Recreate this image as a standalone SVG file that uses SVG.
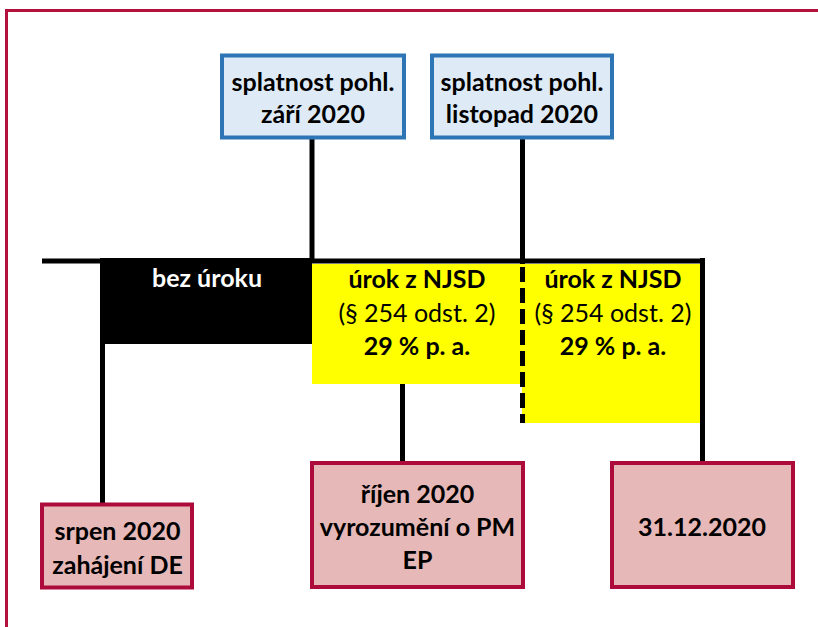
<svg xmlns="http://www.w3.org/2000/svg" width="818" height="627" viewBox="0 0 818 627">
  <style>
    .t { font-family: Lato, "Open Sans", "Liberation Sans", sans-serif; font-size: 25px; text-anchor: middle; fill: #000; }
    .b { font-weight: bold; }
    .r { font-weight: normal; }
    .w { fill: #fff; }
    .due { fill: #DEEBF7; stroke: #2E75B6; stroke-width: 4; }
    .event { fill: #E6B8B7; stroke: #AC0B3B; stroke-width: 4; }
    .ln { stroke: #000; stroke-width: 5; fill: none; }
  </style>

  <!-- outer frame (top and left edges) -->
  <path d="M6.5,627 V10.5 H818" fill="none" stroke="#B3123F" stroke-width="3"/>

  <!-- interest periods -->
  <g id="period-no-interest">
    <rect x="100" y="258" width="212" height="86" fill="#000"/>
    <text class="t b w" x="207" y="287">bez úroku</text>
  </g>
  <g id="period-interest-1">
    <rect x="312" y="264" width="210" height="120" fill="#FFFF00"/>
    <text class="t b" x="417" y="288">úrok z NJSD</text>
    <text class="t r" x="417" y="321.5">(§ 254 odst. 2)</text>
    <text class="t b" x="417" y="355">29 % p. a.</text>
  </g>
  <g id="period-interest-2">
    <rect x="522" y="264" width="180" height="159" fill="#FFFF00"/>
    <text class="t b" x="613" y="288">úrok z NJSD</text>
    <text class="t r" x="613" y="321.5">(§ 254 odst. 2)</text>
    <text class="t b" x="613" y="355">29 % p. a.</text>
  </g>

  <!-- connectors -->
  <g id="connectors">
    <line class="ln" x1="42" y1="261" x2="705" y2="261"/>
    <line class="ln" x1="102.5" y1="258" x2="102.5" y2="504"/>
    <line class="ln" x1="312" y1="139" x2="312" y2="261" stroke-width="4"/>
    <line class="ln" x1="522.5" y1="139" x2="522.5" y2="264"/>
    <line class="ln" x1="522.5" y1="264" x2="522.5" y2="423" stroke-dasharray="15 6" stroke-dashoffset="-3"/>
    <line class="ln" x1="402.5" y1="384" x2="402.5" y2="462"/>
    <line class="ln" x1="702.5" y1="258" x2="702.5" y2="462"/>
  </g>

  <!-- due dates -->
  <g id="due-sep">
    <rect class="due" x="222" y="55.5" width="182" height="82"/>
    <text class="t b" x="313" y="91">splatnost pohl.</text>
    <text class="t b" x="313" y="122.5">září 2020</text>
  </g>
  <g id="due-nov">
    <rect class="due" x="432" y="55.5" width="180" height="82"/>
    <text class="t b" x="522" y="91">splatnost pohl.</text>
    <text class="t b" x="522" y="122.5">listopad 2020</text>
  </g>

  <!-- events -->
  <g id="event-aug">
    <rect class="event" x="42" y="504.5" width="150" height="83"/>
    <text class="t b" x="117.5" y="540">srpen 2020</text>
    <text class="t b" x="117.5" y="574">zahájení DE</text>
  </g>
  <g id="event-oct">
    <rect class="event" x="312" y="463" width="211" height="124"/>
    <text class="t b" x="417.5" y="503">říjen 2020</text>
    <text class="t b" x="417.5" y="536">vyrozumění o PM</text>
    <text class="t b" x="417.5" y="569">EP</text>
  </g>
  <g id="event-dec">
    <rect class="event" x="612" y="463" width="181" height="124"/>
    <text class="t b" x="702" y="536">31.12.2020</text>
  </g>
</svg>
